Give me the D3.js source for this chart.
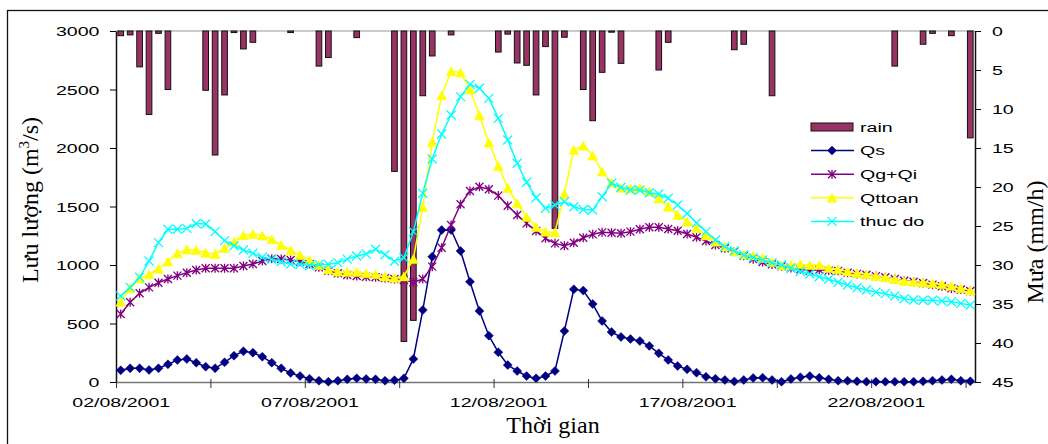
<!DOCTYPE html>
<html>
<head>
<meta charset="utf-8">
<script src="https://cdn.jsdelivr.net/npm/d3@7"></script>
<style>
  body { margin: 0; background: #fff; }
  svg { display: block; }
  .sans { font-family: "Liberation Sans", Arial, sans-serif; font-size: 13.5px; fill: #000; }
  .serif { font-family: "Liberation Serif", "Times New Roman", serif; font-size: 24px; fill: #000; }
</style>
</head>
<body>
<svg width="1048" height="444"></svg>
<script>
// 6-hourly steps from 02/08/2001 00h, 91 steps
const dateLabels = ["02/08/2001", "07/08/2001", "12/08/2001", "17/08/2001", "22/08/2001"];
const labelIdx = [0, 20, 40, 60, 80];
const flowTicks = [0, 500, 1000, 1500, 2000, 2500, 3000];
const rainTicks = [0, 5, 10, 15, 20, 25, 30, 35, 40, 45];

const rain = [
  0.6, 0.5, 4.6, 10.7, 0.3, 7.5, 0, 0, 0, 7.6,
  15.9, 8.2, 0.2, 2.3, 1.45, 0, 0, 0, 0.2, 0,
  0, 4.5, 3.4, 0, 0, 0.85, 0, 0, 0, 18.0,
  39.8, 37.1, 8.3, 3.2, 0, 0.5, 0, 0, 0, 0,
  2.7, 0.4, 4.1, 4.4, 8.2, 2.0, 25.3, 0.8, 0, 7.5,
  11.5, 5.3, 0.15, 4.15, 0, 0, 0, 5.0, 1.45, 0,
  0, 0, 0, 0, 0, 2.4, 1.7, 0, 0, 8.3,
  0, 0, 0, 0, 0, 0, 0, 0, 0, 0,
  0, 0, 4.5, 0, 0, 1.7, 0.3, 0, 0.6, 0,
  13.7
];

const qs = [
  100, 117, 117, 103, 117, 151, 188, 197, 165, 131,
  117, 168, 225, 262, 251, 216, 165, 117, 77, 51,
  28, 11, 3, 11, 23, 31, 26, 23, 11, 15,
  31, 197, 615, 1071, 1299, 1299, 1120, 857, 607, 396,
  254, 145, 94, 51, 31, 51, 94, 436, 792, 781,
  667, 521, 427, 385, 368, 350, 308, 245, 188, 137,
  108, 80, 45, 28, 17, 5, 17, 34, 37, 17,
  3, 26, 40, 51, 37, 23, 11, 11, 6, 3,
  3, 3, 3, 3, 3, 6, 11, 17, 23, 11,
  6
];

const qgqi = [
  581, 681, 758, 809, 849, 880, 909, 934, 957, 972,
  972, 972, 972, 991, 1009, 1034, 1054, 1051, 1043, 1028,
  1009, 980, 951, 929, 914, 906, 900, 895, 888, 880,
  872, 852, 880, 986, 1148, 1342, 1519, 1632, 1669, 1647,
  1593, 1507, 1427, 1356, 1291, 1228, 1185, 1164, 1190, 1233,
  1262, 1279, 1276, 1271, 1285, 1305, 1322, 1322, 1308, 1293,
  1265, 1237, 1205, 1171, 1143, 1114, 1078, 1050, 1025, 1005,
  990, 975, 965, 950, 960, 952, 950, 934, 924, 917,
  905, 895, 880, 865, 857, 846, 832, 818, 800, 790,
  778
];

const qttoan = [
  686, 801, 885, 920, 968, 1030, 1100, 1133, 1128, 1105,
  1095, 1145, 1200, 1255, 1265, 1252, 1220, 1172, 1126, 1085,
  1042, 1000, 962, 945, 940, 940, 930, 922, 902, 890,
  902, 1052, 1496, 2053, 2450, 2655, 2645, 2500, 2280, 2046,
  1847, 1658, 1528, 1410, 1325, 1285, 1278, 1610, 1984, 2020,
  1935, 1800, 1703, 1660, 1654, 1660, 1628, 1568, 1497, 1428,
  1372, 1315, 1253, 1199, 1158, 1116, 1090, 1082, 1060, 1025,
  995, 1000, 1006, 1000, 1000, 975, 963, 945, 930, 920,
  906, 895, 880, 863, 857, 853, 843, 835, 822, 802,
  783
];

const thucdo = [
  735, 809, 895, 1034, 1191, 1305, 1305, 1313, 1355, 1350,
  1285, 1208, 1165, 1128, 1100, 1066, 1049, 1028, 1009, 1006,
  994, 1005, 1005, 1020, 1050, 1077, 1094, 1134, 1088, 1032,
  1062, 1285, 1613, 1906, 2120, 2282, 2439, 2544, 2510, 2424,
  2253, 2068, 1869, 1707, 1575, 1485, 1513, 1541, 1498, 1475,
  1470, 1584, 1698, 1664, 1641, 1641, 1618, 1607, 1570, 1513,
  1440, 1360, 1285, 1214, 1157, 1122, 1085, 1062, 1043, 1020,
  1000, 975, 945, 923, 900, 878, 852, 829, 806, 786,
  768, 755, 735, 712, 701, 698, 698, 692, 686, 672,
  658
];

const svg = d3.select("svg");
const plot = { left: 116, right: 975, top: 31, bottom: 382 };
const stretch = 1.45; // the sans text in the picture is wide

const x = d3.scaleBand().domain(d3.range(rain.length)).range([plot.left, plot.right]);
const xc = (i) => x(i) + x.bandwidth() / 2;
const xIdx = d3.scaleLinear().domain([0, rain.length]).range([plot.left, plot.right]);
const y = d3.scaleLinear().domain([0, 3000]).range([plot.bottom, plot.top]);
const yr = d3.scaleLinear().domain([0, 45]).range([plot.top, plot.bottom]);

// chart frame
svg.append("rect")
  .attr("x", 7.5).attr("y", 10.5)
  .attr("width", 1060).attr("height", 460)
  .attr("fill", "#fff").attr("stroke", "#111").attr("stroke-width", 1.3);

// top category line of the rain axis
svg.append("line")
  .attr("x1", plot.left).attr("x2", plot.right)
  .attr("y1", plot.top).attr("y2", plot.top)
  .attr("stroke", "#9a9a9a").attr("stroke-width", 1.2);

// rain bars hanging from top
const barW = x.bandwidth() * 0.6;
svg.append("g")
  .selectAll("rect")
  .data(rain.map((v, i) => ({ v, i })).filter((d) => d.v > 0))
  .join("rect")
  .attr("x", (d) => xc(d.i) - barW / 2)
  .attr("y", yr(0))
  .attr("width", barW)
  .attr("height", (d) => yr(d.v) - yr(0))
  .attr("fill", "#993366")
  .attr("stroke", "#111")
  .attr("stroke-width", 1);

// axes
const stretchText = (sel, dx) =>
  sel.selectAll("text")
    .attr("class", "sans")
    .attr("x", dx / stretch)
    .attr("transform", `scale(${stretch},1)`);

const gx = svg.append("g")
  .attr("transform", `translate(0,${plot.bottom})`)
  .call(d3.axisBottom(xIdx).tickValues(d3.range(0, 91, 10)).tickFormat("").tickSize(6).tickSizeOuter(0));
gx.select(".domain").attr("stroke", "#777").attr("stroke-width", 1.5);
gx.selectAll(".tick line").attr("stroke", "#333").attr("y1", -3);

const gxl = svg.append("g")
  .attr("transform", `translate(0,${plot.bottom})`)
  .call(d3.axisBottom(xIdx)
    .tickValues(labelIdx.map((i) => i + 0.5))
    .tickFormat((d, k) => dateLabels[k])
    .tickSize(0));
gxl.select(".domain").remove();
gxl.selectAll("text")
  .attr("class", "sans")
  .attr("y", 25.5).attr("dy", 0)
  .attr("transform", `scale(${stretch},1)`);

const gy = svg.append("g")
  .attr("transform", `translate(${plot.left},0)`)
  .call(d3.axisLeft(y).tickValues(flowTicks).tickFormat(d3.format("d")).tickSize(6).tickSizeOuter(0));
gy.select(".domain").attr("stroke", "#111").attr("stroke-width", 1.5);
stretchText(gy, -16.5);
gy.selectAll("text").attr("dy", "0.36em");

const gyr = svg.append("g")
  .attr("transform", `translate(${plot.right},0)`)
  .call(d3.axisRight(yr).tickValues(rainTicks).tickFormat(d3.format("d")).tickSize(6).tickSizeOuter(0));
gyr.select(".domain").attr("stroke", "#111").attr("stroke-width", 1.5);
stretchText(gyr, 17);
gyr.selectAll("text").attr("dy", "0.36em");

// markers
const diamond = "M0,-4.5L4.5,0L0,4.5L-4.5,0Z";
const triangle = "M0,-4.5L5,4.5L-5,4.5Z";
const star = "M-4,-4L4,4M-4,4L4,-4M0,-4.5L0,4.5";
const cross = "M-4.5,-4.5L4.5,4.5M-4.5,4.5L4.5,-4.5";

const series = [
  { name: "Qs", values: qs, color: "#000080", marker: diamond, filled: true },
  { name: "Qg+Qi", values: qgqi, color: "#800080", marker: star, filled: false },
  { name: "Qttoan", values: qttoan, color: "#FFFF00", marker: triangle, filled: true },
  { name: "thuc do", values: thucdo, color: "#00FFFF", marker: cross, filled: false }
];

const line = d3.line().x((d, i) => xc(i)).y((d) => y(d));

series.forEach((s) => {
  const g = svg.append("g");
  g.append("path")
    .attr("d", line(s.values))
    .attr("fill", "none")
    .attr("stroke", s.color)
    .attr("stroke-width", 1.5);
  g.selectAll("path.m")
    .data(s.values)
    .join("path")
    .attr("class", "m")
    .attr("d", s.marker)
    .attr("transform", (d, i) => `translate(${xc(i)},${y(d)})`)
    .attr("fill", s.filled ? s.color : "none")
    .attr("stroke", s.color)
    .attr("stroke-width", s.filled ? 0.5 : 1.3);
});

// legend
const lg = svg.append("g").attr("transform", "translate(811,0)");
const rowY = (k) => 127 + k * 23.6;
lg.append("rect")
  .attr("x", 0).attr("y", rowY(0) - 4)
  .attr("width", 42).attr("height", 8)
  .attr("fill", "#993366").attr("stroke", "#111");
lg.append("text").attr("class", "sans")
  .attr("transform", `translate(49,${rowY(0) + 4.8}) scale(${stretch},1)`)
  .text("rain");
series.forEach((s, k) => {
  const yy = rowY(k + 1);
  lg.append("line")
    .attr("x1", 0).attr("x2", 43).attr("y1", yy).attr("y2", yy)
    .attr("stroke", s.color).attr("stroke-width", 1.5);
  lg.append("path")
    .attr("d", s.marker)
    .attr("transform", `translate(21,${yy})`)
    .attr("fill", s.filled ? s.color : "none")
    .attr("stroke", s.color)
    .attr("stroke-width", s.filled ? 0.5 : 1.3);
  lg.append("text").attr("class", "sans")
    .attr("transform", `translate(49,${yy + 4.8}) scale(${stretch},1)`)
    .text(s.name);
});

// axis titles
const yt = svg.append("text").attr("class", "serif")
  .attr("text-anchor", "middle")
  .attr("transform", "translate(38,200) rotate(-90)");
yt.append("tspan").text("Lưu lượng (m");
yt.append("tspan").attr("font-size", 15).attr("dy", -9).text("3");
yt.append("tspan").attr("dy", 9).text("/s)");

svg.append("text").attr("class", "serif")
  .attr("text-anchor", "middle")
  .attr("transform", "translate(1043,242) rotate(-90)")
  .text("Mưa (mm/h)");

svg.append("text").attr("class", "serif")
  .attr("text-anchor", "middle")
  .attr("x", 553).attr("y", 433)
  .text("Thời gian");
</script>
</body>
</html>
